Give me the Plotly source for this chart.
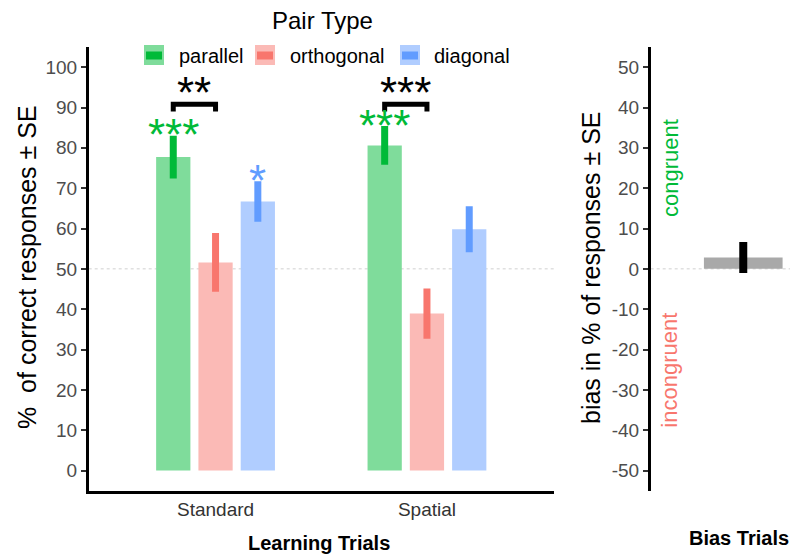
import plotly.graph_objects as go

# ---- data -------------------------------------------------------------
trial_types = ["Standard", "Spatial"]
pair_types = ["parallel", "orthogonal", "diagonal"]

parallel_mean = [77.7, 80.6]
parallel_se = [5.3, 4.8]
orthogonal_mean = [51.6, 38.9]
orthogonal_se = [7.3, 6.2]
diagonal_mean = [66.7, 59.8]
diagonal_se = [5.0, 5.7]

# significance vs. chance for each bar, and parallel vs. orthogonal per trial type
parallel_sig = ["***", "***"]
orthogonal_sig = ["", ""]
diagonal_sig = ["*", ""]
pair_sig = ["**", "***"]

chance_level = 50

bias_label = ["Bias Trials"]
bias_mean = [2.8]
bias_se = [3.85]

y_ticks_correct = list(range(0, 101, 10))
y_ticks_bias = list(range(-50, 51, 10))

# ---- styling ----------------------------------------------------------
W, H = 790, 556
FONT = "Liberation Sans, Arial, sans-serif"
fill_cols = ["#7FDC9B", "#FBBAB6", "#B0CDFF"]
dark_cols = ["#00BA38", "#F8766D", "#619CFF"]
TICK_GREY = "#4D4D4D"


def px(x):
    return x / W


def py(y):
    return 1 - y / H


def paper_text(x, y, text, size, color="black", angle=0, xanchor="center"):
    return dict(x=px(x), y=py(y), xref="paper", yref="paper", text=text,
                showarrow=False, textangle=angle, xanchor=xanchor, yanchor="middle",
                font=dict(family=FONT, size=size, color=color))


means = [parallel_mean, orthogonal_mean, diagonal_mean]
ses = [parallel_se, orthogonal_se, diagonal_se]
sigs = [parallel_sig, orthogonal_sig, diagonal_sig]

xpos = list(range(len(trial_types)))
slot = 0.2  # dodge width per bar
offsets = [(k - 1) * slot for k in range(len(pair_types))]

fig = go.Figure()

for k, name in enumerate(pair_types):
    fig.add_bar(
        x=xpos, y=means[k], name=name,
        marker=dict(color=fill_cols[k], line=dict(width=0)),
        error_y=dict(type="data", array=ses[k], color=dark_cols[k],
                     thickness=7, width=0),
        xaxis="x", yaxis="y", showlegend=False,
    )

fig.add_bar(
    x=[0], y=bias_mean, name="bias",
    width=[0.51], offset=[-0.255],
    marker=dict(color="#A9A9A9", line=dict(width=0)),
    error_y=dict(type="data", array=bias_se, color="black", thickness=8, width=0),
    xaxis="x2", yaxis="y2", showlegend=False,
)

annotations = []
shapes = []

# significance stars above each bar
for k in range(len(pair_types)):
    for i in xpos:
        if sigs[k][i]:
            annotations.append(dict(
                x=i + offsets[k], y=means[k][i] + ses[k][i], xref="x", yref="y",
                text=sigs[k][i], showarrow=False, xanchor="center", yanchor="middle",
                yshift=1, font=dict(family=FONT, size=44, color=dark_cols[k]),
            ))

# brackets for parallel vs. orthogonal comparison
bracket_top = 90.8
bracket_drop = 1.8
for i in xpos:
    x1 = i + offsets[0]
    x2 = i + offsets[1]
    shapes.append(dict(
        type="path", xref="x", yref="y",
        path=f"M {x1},{bracket_top - bracket_drop} L {x1},{bracket_top} "
             f"L {x2},{bracket_top} L {x2},{bracket_top - bracket_drop}",
        line=dict(color="black", width=5),
    ))
    annotations.append(dict(
        x=(x1 + x2) / 2, y=bracket_top, xref="x", yref="y",
        text=pair_sig[i], showarrow=False, xanchor="center", yanchor="middle",
        yshift=12, font=dict(family=FONT, size=44, color="black"),
    ))

# chance-level reference lines, drawn behind the bars
shapes.append(dict(type="line", xref="x domain", yref="y", x0=0, x1=1,
                   y0=chance_level, y1=chance_level, layer="below",
                   line=dict(color="#D0D0D0", width=1, dash="dot")))
shapes.append(dict(type="line", xref="x2 domain", yref="y2", x0=0, x1=1,
                   y0=0, y1=0, layer="below",
                   line=dict(color="#D0D0D0", width=1, dash="dot")))

# congruent / incongruent direction labels
annotations.append(dict(x=-0.475, y=25, xref="x2", yref="y2", text="congruent",
                        textangle=-90, showarrow=False, yanchor="middle",
                        font=dict(family=FONT, size=22, color="#00BA38")))
annotations.append(dict(x=-0.475, y=-25, xref="x2", yref="y2", text="incongruent",
                        textangle=-90, showarrow=False, yanchor="middle",
                        font=dict(family=FONT, size=22, color="#F8766D")))

# legend (title, keys, labels)
annotations.append(paper_text(322, 21, "Pair Type", 24))
key_left = [144, 255, 400]
label_left = [177, 288, 432]
for k, name in enumerate(pair_types):
    shapes.append(dict(type="rect", xref="paper", yref="paper",
                       x0=px(key_left[k]), x1=px(key_left[k] + 20),
                       y0=py(65), y1=py(45),
                       fillcolor=fill_cols[k], line=dict(width=0)))
    shapes.append(dict(type="rect", xref="paper", yref="paper",
                       x0=px(key_left[k] + 2), x1=px(key_left[k] + 18),
                       y0=py(59.5), y1=py(51.5),
                       fillcolor=dark_cols[k], line=dict(width=0)))
    annotations.append(paper_text(label_left[k], 56, name, 20, xanchor="left"))

# axis titles
annotations.append(paper_text(27, 267, "%  of correct responses ± SE", 25, angle=-90))
annotations.append(paper_text(591, 268, "bias in % of responses ± SE", 25, angle=-90))
annotations.append(paper_text(319, 543, "<b>Learning Trials</b>", 20))
annotations.append(paper_text(739, 538, f"<b>{bias_label[0]}</b>", 20))

y_dom = [py(490.7), py(47)]
yaxis_common = dict(
    showgrid=False, zeroline=False, showline=True, linecolor="black", linewidth=2.5,
    ticks="outside", ticklen=5, tickwidth=2, tickcolor="#333333",
    tickfont=dict(family=FONT, size=19, color=TICK_GREY), domain=y_dom,
)

fig.update_layout(
    width=W, height=H, margin=dict(l=0, r=0, t=0, b=0),
    paper_bgcolor="white", plot_bgcolor="white",
    barmode="group", bargap=0.4, bargroupgap=0.19,
    showlegend=False,
    xaxis=dict(domain=[px(88.7), px(553.8)], range=[-0.6, 1.6], anchor="y",
               tickvals=xpos, ticktext=trial_types, ticks="", ticklabelstandoff=0,
               showgrid=False, zeroline=False, showline=True, linecolor="black",
               linewidth=2.5, tickfont=dict(family=FONT, size=19, color="#333333")),
    yaxis=dict(anchor="x", range=[-5, 105], tickvals=y_ticks_correct,
               ticktext=[str(v) for v in y_ticks_correct], **yaxis_common),
    xaxis2=dict(domain=[px(650.7), 1], range=[-0.6, 0.303], anchor="y2",
                showticklabels=False, ticks="", showgrid=False, zeroline=False,
                showline=False),
    yaxis2=dict(anchor="x2", range=[-55, 55], tickvals=y_ticks_bias,
                ticktext=[str(v) for v in y_ticks_bias], **yaxis_common),
    annotations=annotations, shapes=shapes,
)

fig.write_html("out.html")
